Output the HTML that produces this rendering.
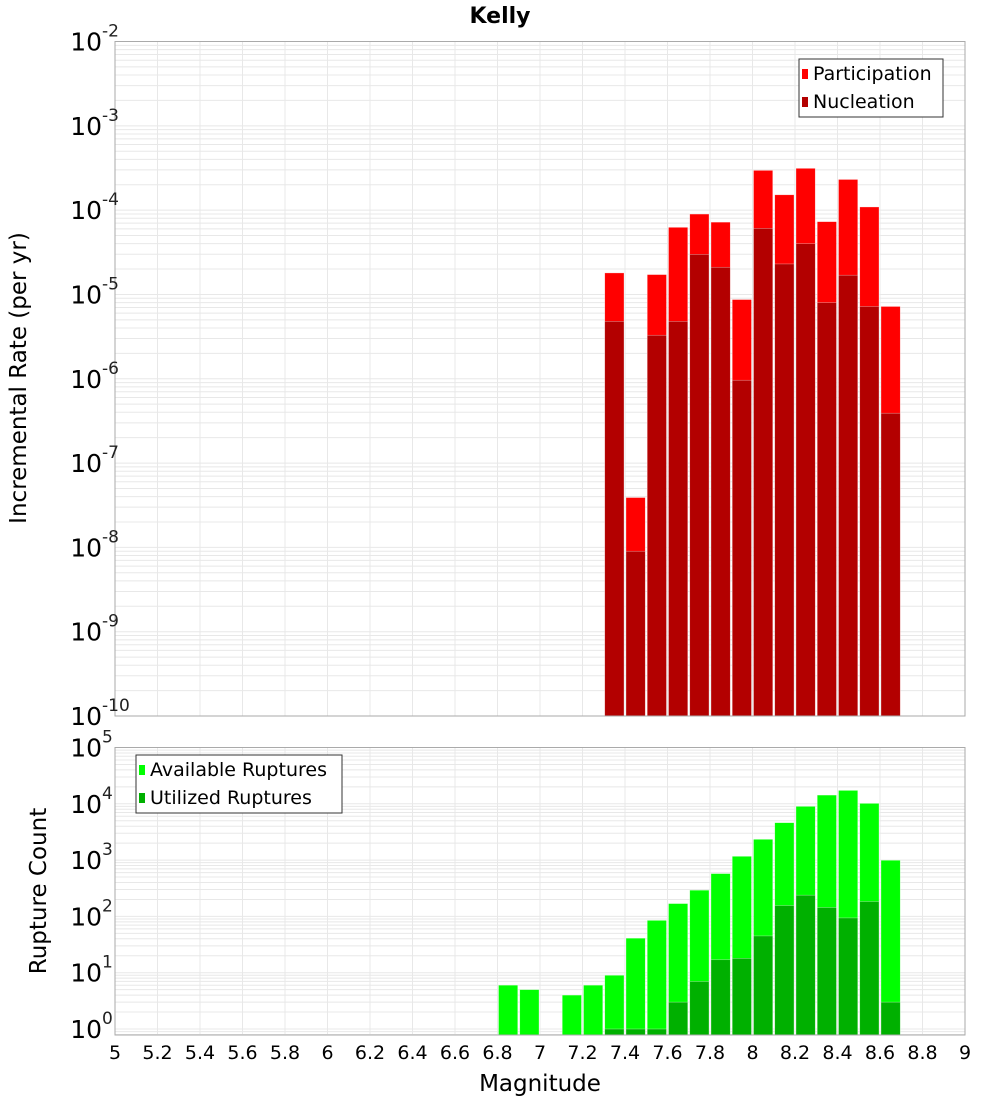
<!DOCTYPE html>
<html><head><meta charset="utf-8"><style>
body{margin:0;background:#fff;}
svg{display:block;font-family:"DejaVu Sans","Liberation Sans",sans-serif;}
</style></head><body>
<svg id="c" width="1000" height="1100"></svg>
<script>
const magBins = [6.85,6.95,7.05,7.15,7.25,7.35,7.45,7.55,7.65,7.75,7.85,7.95,8.05,8.15,8.25,8.35,8.45,8.55,8.65];
const participation = [0,0,0,0,0,1.8e-5,3.9e-8,1.72e-5,6.25e-5,8.98e-5,7.2e-5,8.7e-6,2.96e-4,1.52e-4,3.13e-4,7.3e-5,2.31e-4,1.09e-4,7.2e-6];
const nucleation = [0,0,0,0,0,4.8e-6,9.0e-9,3.28e-6,4.8e-6,2.99e-5,2.1e-5,9.6e-7,6.08e-5,2.3e-5,4.0e-5,8.0e-6,1.69e-5,7.2e-6,3.9e-7];
const available = [6,5,0,4,6,9,41,85,169,292,576,1168,2340,4620,9000,14280,17290,10170,993];
const utilized = [0,0,0,0,0,1,1,1,3,7,17,18,45,156,238,144,94,184,3];
const xTicks = [5,5.2,5.4,5.6,5.8,6,6.2,6.4,6.6,6.8,7,7.2,7.4,7.6,7.8,8,8.2,8.4,8.6,8.8,9];
const topExp = [-2,-3,-4,-5,-6,-7,-8,-9,-10];
const botExp = [5,4,3,2,1,0];

const NS="http://www.w3.org/2000/svg";
const svg=document.getElementById('c');
function el(tag,attrs,parent){const e=document.createElementNS(NS,tag);for(const k in attrs)e.setAttribute(k,attrs[k]);(parent||svg).appendChild(e);return e;}
const X0=115,X1=965;
const x=v=>X0+(v-5)/4*(X1-X0);
const T0=41.5,T1=716;
const yTop=v=>T0+(-2-Math.log10(v))*(T1-T0)/8;
const B0=747.5,B1=1035,DEC=56.3,ONE=1029;
const yBot=v=>ONE-Math.log10(v)*DEC;

function grid(y0,y1,yfun,eLo,eHi){
  for(let e=eLo;e<eHi;e++){for(let m=1;m<10;m++){const yy=yfun(m*Math.pow(10,e));if(yy<y0-0.5||yy>y1+0.5)continue;
    const l=el('line',{x1:X0,x2:X1,y1:yy,y2:yy,stroke:'#e8e8e8','stroke-width':1});
    }}
  xTicks.forEach(t=>{const l=el('line',{x1:x(t),x2:x(t),y1:y0,y2:y1,stroke:'#e8e8e8','stroke-width':1});
    });
}
grid(T0,T1,yTop,-10,-1);
grid(B0,B1,yBot,-1,5);

function bars(vals,yfun,ybase,color,name){
  vals.forEach((v,i)=>{if(v<=0)return;const xl=x(magBins[i]-0.05)+1,xr=x(magBins[i]+0.05)-1;const yy=yfun(v);
    const r=el('rect',{x:xl,y:yy,width:xr-xl,height:ybase-yy,fill:color,stroke:'#fff','stroke-opacity':0.5,'stroke-width':0.6});
    });
}
bars(participation,yTop,T1,'#ff0000','participation');
bars(nucleation,yTop,T1,'#b30000','nucleation');
bars(available,yBot,B1,'#00ff00','available-ruptures');
bars(utilized,yBot,B1,'#00b000','utilized-ruptures');

[[T0,T1,'top-plot-frame'],[B0,B1,'bottom-plot-frame']].forEach(a=>{const r=el('rect',{x:X0,y:a[0],width:X1-X0,height:a[1]-a[0],fill:'none',stroke:'#aaa','stroke-width':1});
  });

function ylabel(exp,yy,name){const t=el('text',{x:102,y:yy+9,'font-size':25,'text-anchor':'end',fill:'#000'});t.textContent='10';
  
  const s=el('text',{x:102,y:yy-5,'font-size':17,fill:'#222'});s.textContent=String(exp);
  }
topExp.forEach(e=>ylabel(e,yTop(Math.pow(10,e)),'top-y-tick-label'));
botExp.forEach(e=>ylabel(e,yBot(Math.pow(10,e)),'bottom-y-tick-label'));

xTicks.forEach(t=>{const l=el('text',{x:x(t),y:1059,'font-size':19,'text-anchor':'middle',fill:'#000'});l.textContent=String(t);
  });

function legend(bx,by,w,items,name){const g=el('g',{});
  el('rect',{x:bx,y:by,width:w,height:58,fill:'#fff',stroke:'#333','stroke-width':1},g);
  items.forEach((it,i)=>{const sw=el('rect',{x:bx+3,y:by+10+i*28,width:6,height:10,fill:it[1]},g);
    
    const t=el('text',{x:bx+14,y:by+21+i*28,'font-size':19,fill:'#000'},g);t.textContent=it[0];
    });}
legend(799,59,144,[['Participation','#ff0000'],['Nucleation','#b30000']],'top-legend');
legend(136,755,206,[['Available Ruptures','#00ff00'],['Utilized Ruptures','#00b000']],'bottom-legend');

const ti=el('text',{x:500,y:23,'font-size':22,'font-weight':'bold','text-anchor':'middle'});ti.textContent='Kelly';

const xt=el('text',{x:540,y:1091,'font-size':23,'text-anchor':'middle'});xt.textContent='Magnitude';

const yt1=el('text',{x:0,y:0,'font-size':23,'text-anchor':'middle',transform:'translate(26,378) rotate(-90)'});yt1.textContent='Incremental Rate (per yr)';

const yt2=el('text',{x:0,y:0,'font-size':23,'text-anchor':'middle',transform:'translate(46,891) rotate(-90)'});yt2.textContent='Rupture Count';

</script>
</body></html>
